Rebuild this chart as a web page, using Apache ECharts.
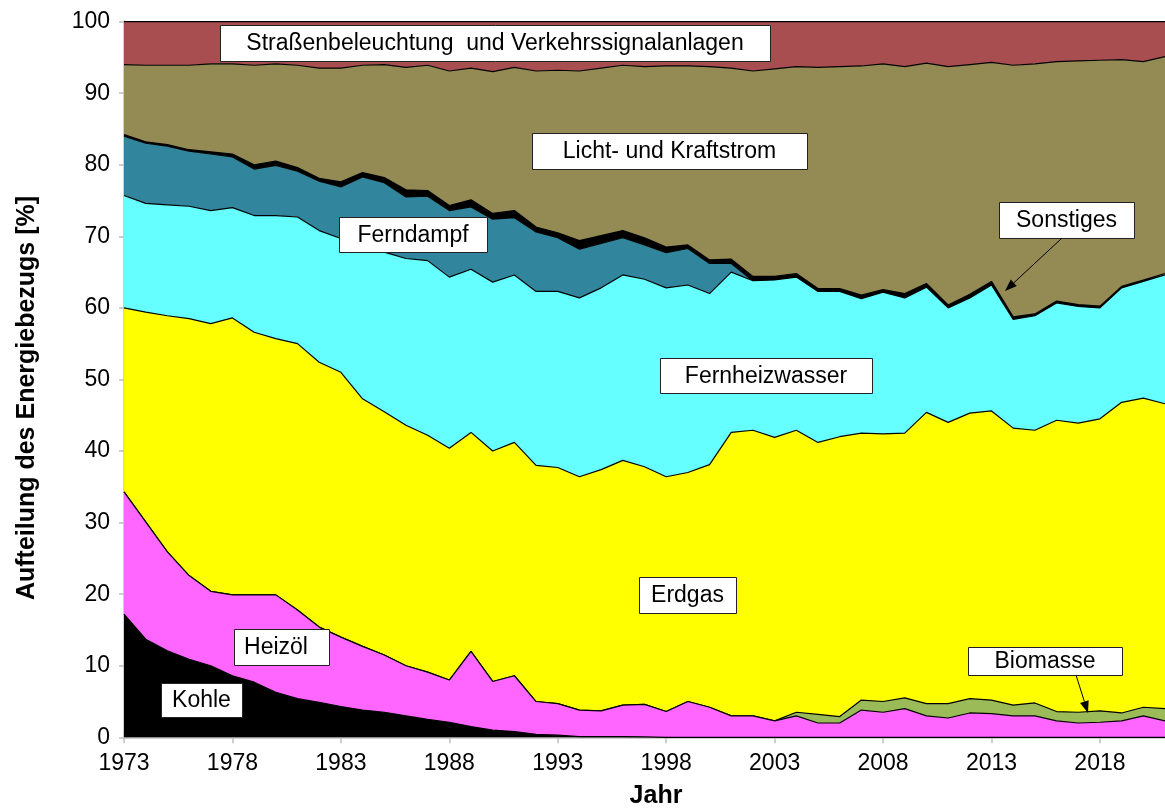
<!DOCTYPE html>
<html>
<head>
<meta charset="utf-8">
<script src="https://cdn.jsdelivr.net/npm/echarts@6/dist/echarts.min.js"></script>
<style>
  html, body { margin: 0; padding: 0; background: #ffffff; }
  #chart { width: 1165px; height: 810px; }
</style>
</head>
<body>
<div id="chart"></div>
<script>
// Jahre 1973 - 2021
const years = ['1973','1974','1975','1976','1977','1978','1979','1980','1981','1982',
  '1983','1984','1985','1986','1987','1988','1989','1990','1991','1992',
  '1993','1994','1995','1996','1997','1998','1999','2000','2001','2002',
  '2003','2004','2005','2006','2007','2008','2009','2010','2011','2012',
  '2013','2014','2015','2016','2017','2018','2019','2020','2021'];

// Anteile am Energiebezug in Prozent, von unten nach oben gestapelt
const kohle = [17.2,13.7,12.1,10.9,10.0,8.6,7.7,6.3,5.4,4.9,
  4.3,3.8,3.5,3.0,2.5,2.1,1.5,1.0,0.8,0.4,
  0.3,0.1,0.1,0.1,0.05,0,0,0,0,0,
  0,0,0,0,0,0,0,0,0,0,
  0,0,0,0,0,0,0,0,0];
const heizoel = [17.1,16.4,13.8,11.7,10.4,11.3,12.2,13.6,12.4,10.5,
  9.7,8.9,8.0,7.0,6.6,5.9,10.5,6.8,7.8,4.6,
  4.4,3.7,3.6,4.4,4.55,3.6,5.0,4.2,3.0,3.0,
  2.3,3.0,2.0,2.0,3.8,3.5,4.0,3.0,2.7,3.4,
  3.3,3.0,3.0,2.3,2.0,2.1,2.3,3.0,2.3];
const biomasse = [0,0,0,0,0,0,0,0,0,0,
  0,0,0,0,0,0,0,0,0,0,
  0,0,0,0,0,0,0,0,0,0,
  0,0.5,1.2,0.9,1.4,1.5,1.5,1.7,2.0,2.0,
  1.9,1.5,1.8,1.3,1.5,1.6,1.1,1.2,1.7];
const erdgas = [25.7,29.3,33.0,35.9,37.4,38.7,36.7,35.8,37.2,37.0,
  37.0,34.6,34.0,33.6,33.1,32.4,30.6,32.2,32.6,33.0,
  33.0,32.6,33.7,34.2,33.2,32.8,32.0,33.9,39.6,39.9,
  39.6,39.4,38.0,39.1,37.3,37.4,37.0,40.7,39.3,39.9,
  40.4,38.7,38.1,40.7,40.4,40.8,43.4,43.2,42.6];
const fernheizwasser = [15.7,15.2,15.5,15.7,15.8,15.4,16.3,17.2,17.7,18.4,
  18.7,21.5,22.3,23.3,24.4,23.9,22.8,23.6,23.4,24.3,
  24.6,25.0,25.4,25.9,26.2,26.4,26.2,23.9,22.4,20.9,
  22.0,21.4,21.1,20.3,18.8,19.8,18.9,17.5,16.0,16.1,
  17.6,15.2,16.0,16.4,16.3,15.5,16.0,16.3,18.0];
const ferndampf = [8.3,8.4,8.2,7.7,7.9,7.1,6.5,7.0,6.4,6.9,
  7.2,9.5,9.7,8.6,9.0,9.3,8.7,8.8,8.0,8.3,
  7.5,6.8,6.2,5.2,4.8,4.9,5.1,4.2,1.2,0,
  0,0,0,0,0,0,0,0,0,0,
  0,0,0,0,0,0,0,0,0];
const sonstiges = [0.2,0.2,0.2,0.2,0.3,0.4,0.6,0.6,0.5,0.4,
  0.7,0.6,0.7,1.0,0.8,0.7,1.0,0.8,1.0,0.7,
  0.7,1.2,1.1,1.0,1.0,0.8,0.5,0.5,0.6,0.6,
  0.5,0.5,0.4,0.4,0.5,0.35,0.6,0.5,0.4,0.5,
  0.5,0.35,0.25,0.25,0.25,0.25,0.2,0.2,0.2];
const licht = [9.8,10.7,11.1,11.8,12.3,12.6,13.9,13.6,14.3,15.4,
  15.9,15.0,15.8,17.1,17.5,18.8,18.4,19.8,20.0,21.8,
  22.7,23.7,23.4,23.1,23.9,25.3,25.0,27.0,26.7,28.7,
  29.0,28.9,30.9,31.0,32.0,31.55,31.7,30.8,33.3,32.1,
  30.6,35.15,34.95,33.45,34.05,34.35,31.7,30.5,30.3];
const strasse = [6.0,6.1,6.1,6.1,5.9,5.9,6.1,5.9,6.1,6.5,
  6.5,6.1,6.0,6.4,6.1,6.9,6.5,7.0,6.4,6.9,
  6.8,6.9,6.5,6.1,6.3,6.2,6.2,6.3,6.5,6.9,
  6.6,6.3,6.4,6.3,6.2,5.9,6.3,5.8,6.3,6.0,
  5.7,6.1,5.9,5.6,5.5,5.4,5.3,5.6,4.9];

const FONT = '"Liberation Sans", Arial, Helvetica, sans-serif';
const AXIS_GRAY = '#BFBFBF';

const stackDefs = [
  { name: 'Kohle', data: kohle, color: '#000000' },
  { name: 'Heizöl', data: heizoel, color: '#FF66FF' },
  { name: 'Biomasse', data: biomasse, color: '#9BBB59' },
  { name: 'Erdgas', data: erdgas, color: '#FFFF00' },
  { name: 'Fernheizwasser', data: fernheizwasser, color: '#66FFFF' },
  { name: 'Ferndampf', data: ferndampf, color: '#31859C' },
  { name: 'Sonstiges', data: sonstiges, color: '#000000' },
  { name: 'Licht- und Kraftstrom', data: licht, color: '#948A54' },
  { name: 'Straßenbeleuchtung und Verkehrssignalanlagen', data: strasse, color: '#A94E50' }
];

const series = stackDefs.map((d, i) => ({
  type: 'line',
  name: d.name,
  data: d.data,
  stack: 'anteil',
  xAxisIndex: 0,
  yAxisIndex: 0,
  symbol: 'none',
  showSymbol: false,
  smooth: false,
  z: 30 - i,
  lineStyle: { color: '#000000', width: 1.2 },
  areaStyle: { color: d.color, opacity: 1 },
  itemStyle: { color: d.color },
  emphasis: { disabled: true }
}));

// Beschriftungskästen im Diagramm
const boxes = [
  { text: 'Straßenbeleuchtung  und Verkehrssignalanlagen', x: 220, y: 25, w: 550, h: 36 },
  { text: 'Licht- und Kraftstrom', x: 532, y: 133, w: 275, h: 36 },
  { text: 'Ferndampf', x: 339, y: 217, w: 148, h: 35 },
  { text: 'Sonstiges', x: 999, y: 202, w: 135, h: 36 },
  { text: 'Fernheizwasser', x: 660, y: 358, w: 212, h: 35 },
  { text: 'Erdgas', x: 639, y: 577, w: 97, h: 36 },
  { text: 'Heizöl', x: 234, y: 629, w: 95, h: 36, cx: 276 },
  { text: 'Kohle', x: 161, y: 683, w: 81, h: 34 },
  { text: 'Biomasse', x: 968, y: 647, w: 154, h: 28 }
];

function arrow(x1, y1, x2, y2) {
  const dx = x2 - x1, dy = y2 - y1;
  const len = Math.sqrt(dx * dx + dy * dy);
  const ux = dx / len, uy = dy / len;
  const hl = 12, hw = 4.5;
  const bx = x2 - ux * hl, by = y2 - uy * hl;
  return [
    { type: 'line', z: 100, shape: { x1: x1, y1: y1, x2: bx, y2: by },
      style: { stroke: '#000', lineWidth: 1 } },
    { type: 'polygon', z: 100,
      shape: { points: [[x2, y2], [bx - uy * hw, by + ux * hw], [bx + uy * hw, by - ux * hw]] },
      style: { fill: '#000' } }
  ];
}

const graphics = [];
boxes.forEach(b => {
  graphics.push({
    type: 'rect', z: 100,
    shape: { x: b.x + 0.5, y: b.y + 0.5, width: b.w, height: b.h },
    style: { fill: '#ffffff', stroke: '#222222', lineWidth: 1 }
  });
  graphics.push({
    type: 'text', z: 101,
    x: b.cx !== undefined ? b.cx : b.x + b.w / 2,
    y: b.y + b.h / 2 + 1,
    style: {
      text: b.text, fill: '#000', fontSize: 23, fontFamily: FONT,
      align: 'center', verticalAlign: 'middle',
      textAlign: 'center', textVerticalAlign: 'middle'
    }
  });
});
graphics.push(...arrow(1062, 238, 1005, 291));
graphics.push(...arrow(1076, 675, 1088, 713));

// Achsentitel
graphics.push({
  type: 'text', z: 101, x: 27, y: 398, rotation: Math.PI / 2,
  style: {
    text: 'Aufteilung des Energiebezugs [%]', fill: '#000', fontSize: 25,
    fontWeight: 'bold', fontFamily: FONT,
    align: 'center', verticalAlign: 'middle', textAlign: 'center', textVerticalAlign: 'middle'
  }
});
graphics.push({
  type: 'text', z: 101, x: 656, y: 796,
  style: {
    text: 'Jahr', fill: '#000', fontSize: 25, fontWeight: 'bold', fontFamily: FONT,
    align: 'center', verticalAlign: 'middle', textAlign: 'center', textVerticalAlign: 'middle'
  }
});

const gridRect = { left: 124, right: -5, top: 21.6, bottom: 72.7, containLabel: false };

const option = {
  animation: false,
  backgroundColor: '#ffffff',
  textStyle: { fontFamily: FONT },
  grid: [Object.assign({}, gridRect), Object.assign({}, gridRect)],
  xAxis: [
    {
      gridIndex: 0, type: 'category', data: years, boundaryGap: false, z: 10,
      axisLine: { show: true, lineStyle: { color: AXIS_GRAY, width: 2.5 } },
      axisTick: { show: true, interval: 4, length: 6, lineStyle: { color: AXIS_GRAY, width: 1.5 } },
      axisLabel: { interval: 4, color: '#000', fontSize: 23, fontFamily: FONT, margin: 15 },
      splitLine: { show: false }
    },
    {
      gridIndex: 1, type: 'category', data: years, boundaryGap: false, z: 10,
      axisLine: { show: false },
      axisTick: { show: true, inside: true, interval: 4, length: 7, lineStyle: { color: AXIS_GRAY, width: 1.5 } },
      axisLabel: { show: false },
      splitLine: { show: false }
    }
  ],
  yAxis: [
    {
      gridIndex: 0, type: 'value', min: 0, max: 100, interval: 10, z: 10,
      axisLine: { show: true, lineStyle: { color: AXIS_GRAY, width: 2.5 } },
      axisTick: { show: true, length: 5, lineStyle: { color: AXIS_GRAY, width: 1.5 } },
      axisLabel: { color: '#000', fontSize: 23, fontFamily: FONT, margin: 14 },
      splitLine: { show: false }
    },
    {
      gridIndex: 1, type: 'value', min: 0, max: 100, interval: 10, z: 10,
      axisLine: { show: false },
      axisTick: { show: true, inside: true, length: 5, lineStyle: { color: AXIS_GRAY, width: 1.5 } },
      axisLabel: { show: false },
      splitLine: { show: false }
    }
  ],
  series: series,
  graphic: { elements: graphics }
};

const chart = echarts.init(document.getElementById('chart'), null, { renderer: 'canvas' });
chart.setOption(option);
</script>
</body>
</html>
